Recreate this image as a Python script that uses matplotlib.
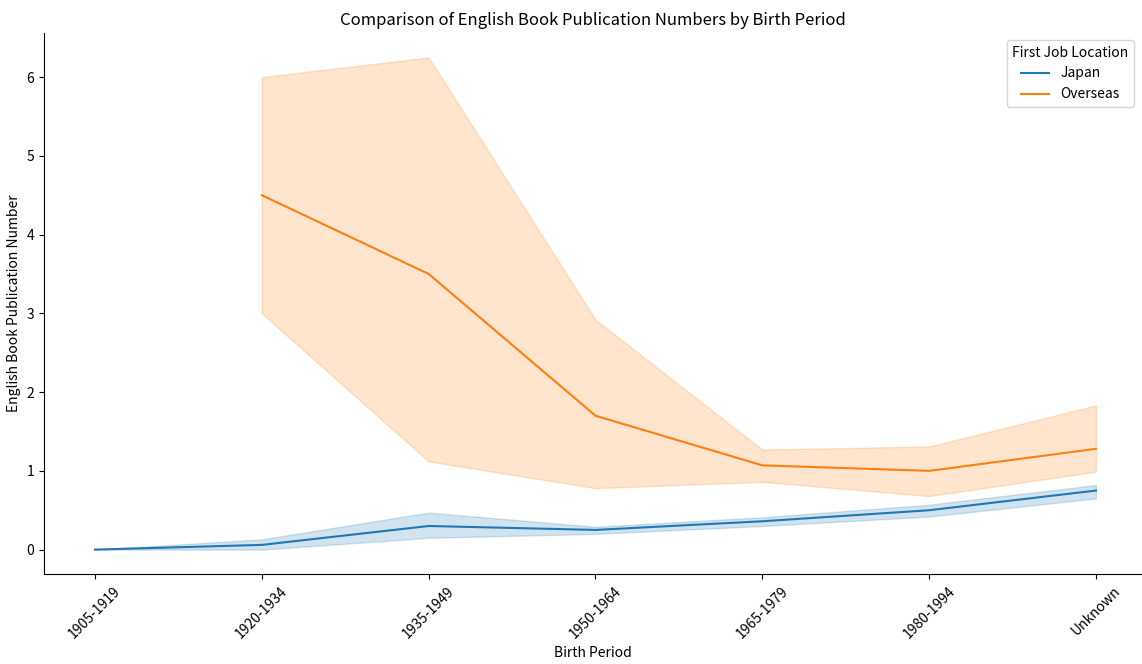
import matplotlib
matplotlib.use("Agg")
import matplotlib.pyplot as plt

plt.rcParams['font.family'] = ['Noto Sans CJK JP', 'DejaVu Sans']

periods = ['1905-1919', '1920-1934', '1935-1949', '1950-1964', '1965-1979', '1980-1994', 'Unknown']

# mean and confidence band, first job in Japan
japan_mean = [0.0, 0.06, 0.30, 0.25, 0.36, 0.50, 0.75]
japan_low = [0.0, 0.0, 0.15, 0.20, 0.30, 0.42, 0.65]
japan_high = [0.0, 0.13, 0.47, 0.29, 0.41, 0.57, 0.82]

# first job overseas (no data for 1905-1919)
overseas_periods = periods[1:]
overseas_mean = [4.5, 3.5, 1.70, 1.07, 1.0, 1.28]
overseas_low = [3.0, 1.12, 0.78, 0.86, 0.68, 0.99]
overseas_high = [6.0, 6.25, 2.92, 1.27, 1.31, 1.83]

fig = plt.figure(figsize=(11.42, 6.64), dpi=100)
ax = fig.add_axes([0.0385, 0.1355, 0.9606, 0.8148])

blue = '#1f77b4'
orange = '#ff7f0e'
x_all = list(range(len(periods)))
x_ov = [periods.index(p) for p in overseas_periods]

ax.fill_between(x_all, japan_low, japan_high, color=blue, alpha=0.2, linewidth=1)
ax.plot(x_all, japan_mean, color=blue, lw=1.5, label='Japan')
ax.fill_between(x_ov, overseas_low, overseas_high, color=orange, alpha=0.2, linewidth=1)
ax.plot(x_ov, overseas_mean, color=orange, lw=1.5, label='Overseas')

ax.set_xticks(x_all)
ax.set_xticklabels(periods, rotation=45)
ax.set_xlim(-0.306, 6.27)
ax.set_ylim(-0.31, 6.56)
ax.spines['top'].set_visible(False)
ax.spines['right'].set_visible(False)

ax.set_title('Comparison of English Book Publication Numbers by Birth Period', fontsize=12)
ax.set_xlabel('Birth Period')
ax.set_ylabel('English Book Publication Number')
ax.legend(title='First Job Location', loc='upper right')

fig.savefig('out.png', dpi=100)
